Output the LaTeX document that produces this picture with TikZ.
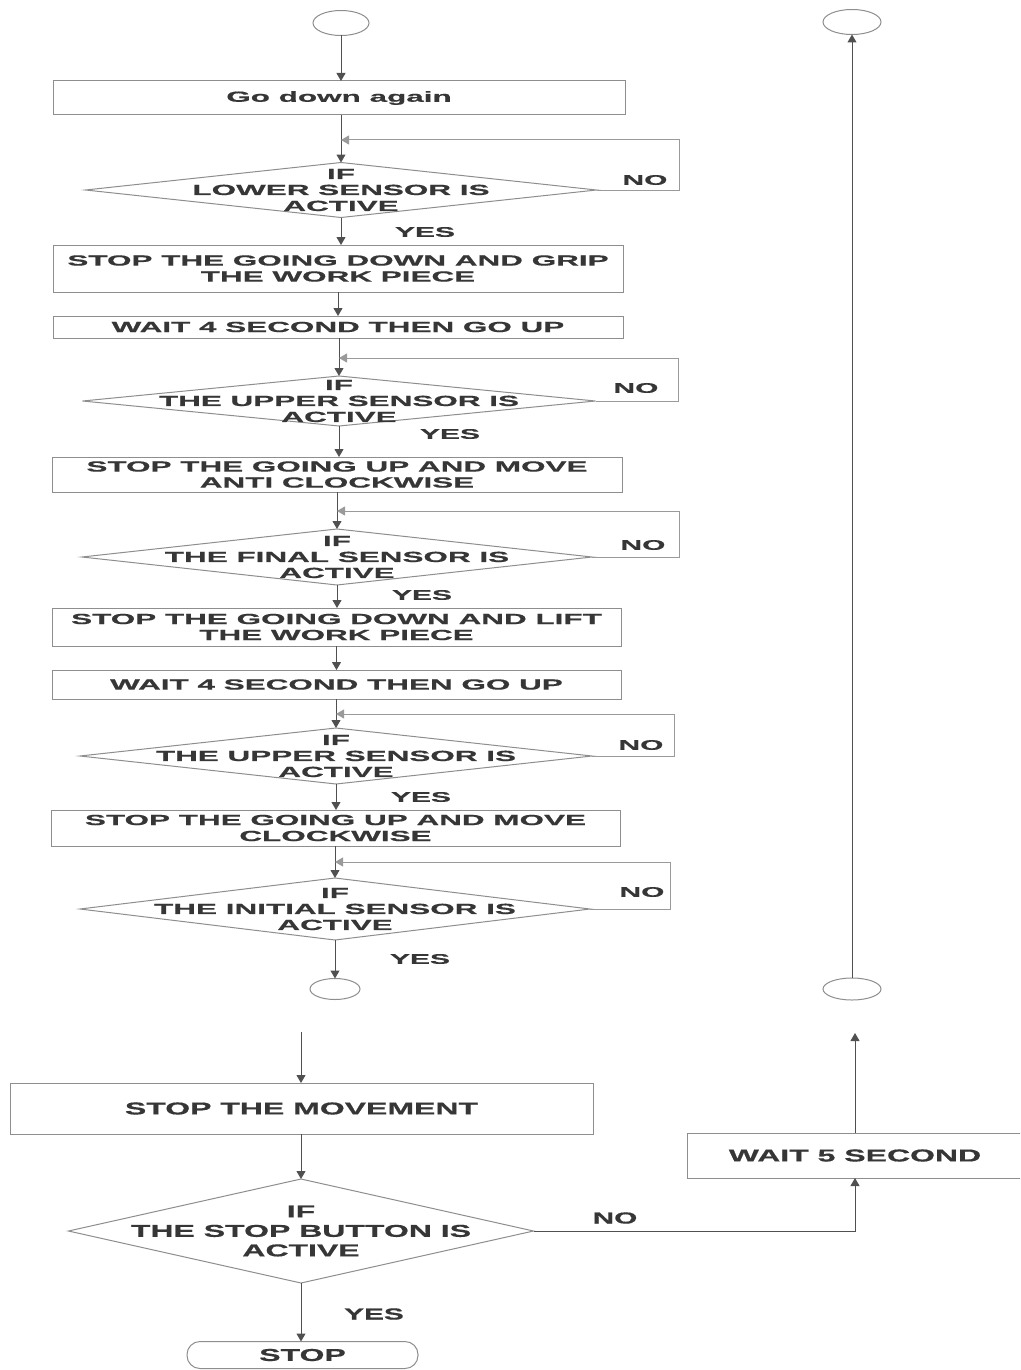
\documentclass[tikz,border=0pt]{standalone}
\usepackage{fontspec}
\setmainfont{Liberation Sans}
% wide bold faces used by the chart
\newfontfamily\wideA[FakeStretch=2.14,FakeBold=0.6]{Liberation Sans}
\newfontfamily\wideB[FakeStretch=1.86,FakeBold=0.6]{Liberation Sans}
\usetikzlibrary{shapes.geometric,arrows.meta}
\definecolor{ink}{HTML}{363636}
\definecolor{edge}{HTML}{8E8E8E}
\definecolor{wire}{HTML}{505050}
\definecolor{loopc}{HTML}{9A9A9A}

\begin{document}
\begin{tikzpicture}[x=1pt,y=-1pt,
  box/.style={draw=edge, line width=1pt, rectangle, inner sep=0pt, outer sep=0pt,
    text=ink, align=center},
  dia/.style={diamond, draw=edge, line width=1pt, inner sep=0pt, outer sep=0pt},
  conn/.style={ellipse, draw=edge, line width=1pt, inner sep=0pt, outer sep=0pt},
  tA/.style={font=\wideA\bfseries\fontsize{14.7}{16}\selectfont, text=ink, align=center},
  tB/.style={font=\wideB\bfseries\fontsize{17.2}{19.5}\selectfont, text=ink, align=center},
  lA/.style={font=\wideA\bfseries\fontsize{14}{16}\selectfont, text=ink},
  lB/.style={font=\wideB\bfseries\fontsize{16}{18}\selectfont, text=ink},
  flow/.style={draw=wire, line width=1pt, -{Triangle[width=9pt,length=8pt]}},
  plain/.style={draw=wire, line width=1pt},
  back/.style={draw=loopc, line width=1pt, -{Triangle[width=9pt,length=8pt]}, fill=none},
]
\clip (0,0) rectangle (1020,1370);
\fill[white] (0,0) rectangle (1020,1370);

% ---------- main sequence ----------
\node[conn, minimum width=56, minimum height=25] (c1) at (341,23) {};
\node[box, tA, minimum width=572, minimum height=34] (b1) at (339,98) {Go down again};

\node[dia, minimum width=511, minimum height=55] (d1) at (341,190) {};
\node[tA] (t1) at (d1) {IF\\LOWER SENSOR IS\\ACTIVE};
\node[box, tA, minimum width=570, minimum height=47] (b2) at (338,268.5)
  {STOP THE GOING DOWN AND GRIP\\THE WORK PIECE};
\node[box, tA, minimum width=570, minimum height=22] (b3) at (338,327)
  {WAIT 4 SECOND THEN GO UP};

\node[dia, minimum width=513, minimum height=50] (d2) at (339,401) {};
\node[tA] (t2) at (d2) {IF\\THE UPPER SENSOR IS\\ACTIVE};
\node[box, tA, minimum width=570, minimum height=35] (b4) at (337,474.5)
  {STOP THE GOING UP AND MOVE\\ANTI CLOCKWISE};

\node[dia, minimum width=510, minimum height=56] (d3) at (337,557) {};
\node[tA] (t3) at (d3) {IF\\THE FINAL SENSOR IS\\ACTIVE};
\node[box, tA, minimum width=569, minimum height=38] (b5) at (336.5,627)
  {STOP THE GOING DOWN AND LIFT\\THE WORK PIECE};
\node[box, tA, minimum width=569, minimum height=29] (b6) at (336.5,684.5)
  {WAIT 4 SECOND THEN GO UP};

\node[dia, minimum width=512, minimum height=56] (d4) at (336,756) {};
\node[tA] (t4) at (d4) {IF\\THE UPPER SENSOR IS\\ACTIVE};
\node[box, tA, minimum width=569, minimum height=36] (b7) at (335.5,828)
  {STOP THE GOING UP AND MOVE\\CLOCKWISE};

\node[dia, minimum width=510, minimum height=62] (d5) at (335,909) {};
\node[tA] (t5) at (d5) {IF\\THE INITIAL SENSOR IS\\ACTIVE};
\node[conn, minimum width=50, minimum height=21] (c2) at (335,989) {};

% ---------- return path on the right ----------
\node[conn, minimum width=58, minimum height=25] (c3) at (852,22) {};
\node[conn, minimum width=58, minimum height=22] (c4) at (852,989) {};

% ---------- final part ----------
\coordinate (s1) at (301,1032);
\node[box, tB, minimum width=583, minimum height=51] (b8) at (301.5,1108.5) {STOP THE MOVEMENT};
\node[dia, minimum width=465, minimum height=104] (d6) at (301,1231) {};
\node[tB] (t6) at (d6) {IF\\THE STOP BUTTON IS\\ACTIVE};
\node[box, tB, minimum width=336, minimum height=45] (b9) at (855,1155.5) {WAIT 5 SECOND};
\coordinate (s2) at (855,1033);
\node[draw=edge, line width=1pt, rectangle, rounded corners=13pt, minimum width=231,
  minimum height=27, inner sep=0pt, outer sep=0pt, tB] (stop) at (302.5,1355) {STOP};

% ---------- branch labels ----------
\node[lA] (no1) at (645,180) {NO};
\node[lA] (yes1) at (425,232) {YES};
\node[lA] (no2) at (636,388) {NO};
\node[lA] (yes2) at (450,434) {YES};
\node[lA] (no3) at (643,545) {NO};
\node[lA] (yes3) at (422,595) {YES};
\node[lA] (no4) at (641,745) {NO};
\node[lA] (yes4) at (421,797) {YES};
\node[lA] (no5) at (642,892) {NO};
\node[lA] (yes5) at (420,959) {YES};
\node[lB] (no6) at (615,1218) {NO};
\node[lB] (yes6) at (374,1314) {YES};

% ---------- junctions where the NO loops come back ----------
\coordinate (j1) at (341,140);  \coordinate (r1) at (679,140);
\coordinate (j2) at (339,358);  \coordinate (r2) at (678,358);
\coordinate (j3) at (337,511);  \coordinate (r3) at (679,511);
\coordinate (j4) at (336,714);  \coordinate (r4) at (674,714);
\coordinate (j5) at (335,862);  \coordinate (r5) at (670,862);

% ---------- connectors ----------
\draw[flow] (c1.south) -- (c1.south |- b1.north);
\draw[flow] (d1.north |- b1.south) -- (d1.north);
\draw[flow] (d1.south) -- (d1.south |- b2.north);
\draw[flow] (b3.north |- b2.south) -- (b3.north);
\draw[flow] (d2.north |- b3.south) -- (d2.north);
\draw[flow] (d2.south) -- (d2.south |- b4.north);
\draw[flow] (d3.north |- b4.south) -- (d3.north);
\draw[flow] (d3.south) -- (d3.south |- b5.north);
\draw[flow] (b6.north |- b5.south) -- (b6.north);
\draw[flow] (d4.north |- b6.south) -- (d4.north);
\draw[flow] (d4.south) -- (d4.south |- b7.north);
\draw[flow] (d5.north |- b7.south) -- (d5.north);
\draw[flow] (d5.south) -- (c2.north);

\draw[back] (d1.east) -| (r1) -- (j1);
\draw[back] (d2.east) -| (r2) -- (j2);
\draw[back] (d3.east) -| (r3) -- (j3);
\draw[back] (d4.east) -| (r4) -- (j4);
\draw[back] (d5.east) -| (r5) -- (j5);

\draw[flow] (c4.north) -- (c3.south);

\draw[flow] (s1) -- (s1 |- b8.north);
\draw[flow] (d6.north |- b8.south) -- (d6.north);
\draw[flow] (d6.east) -| (b9.south);
\draw[flow] (b9.north) -- (s2);
\draw[flow] (d6.south) -- (d6.south |- stop.north);
\end{tikzpicture}
\end{document}
